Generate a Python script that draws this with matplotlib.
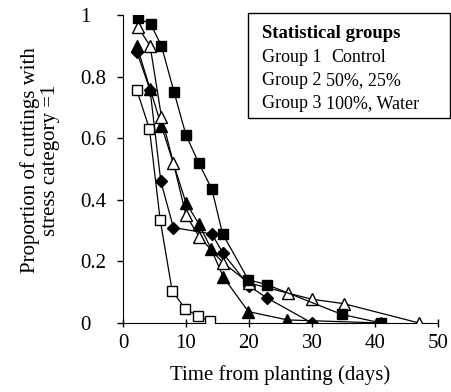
import numpy as np
import matplotlib.pyplot as plt

plt.rcParams['font.family'] = ['Liberation Serif', 'DejaVu Serif']

# filled squares
sq_x = [2.4, 4.4, 6.1, 8.1, 10.0, 12.0, 14.1, 15.8, 19.9, 22.8, 34.7, 41.0]
sq_y = [0.99, 0.97, 0.90, 0.75, 0.61, 0.52, 0.435, 0.29, 0.14, 0.125, 0.028, 0.0]

# open triangles
otri_x = [2.4, 4.3, 6.1, 8.0, 10.0, 12.1, 15.9, 20.0, 26.2, 30.0, 35.0, 47.0]
otri_y = [0.96, 0.90, 0.67, 0.52, 0.35, 0.28, 0.195, 0.13, 0.097, 0.077, 0.063, 0.0]

# filled diamonds
dia_x = [2.2, 4.3, 6.0, 8.0, 14.1, 15.9, 20.0, 22.8, 30.0]
dia_y = [0.88, 0.756, 0.46, 0.31, 0.289, 0.226, 0.12, 0.082, 0.0]

# filled triangles
ftri_x = [2.2, 4.3, 6.1, 10.0, 12.1, 14.0, 15.9, 19.9, 26.1, 41.0]
ftri_y = [0.90, 0.76, 0.64, 0.39, 0.32, 0.24, 0.15, 0.037, 0.01, 0.0]

# open squares
osq_x = [2.2, 4.2, 5.9, 7.8, 9.9, 11.9, 13.8]
osq_y = [0.756, 0.63, 0.335, 0.105, 0.045, 0.023, 0.005]

legend_title = "Statistical groups"
legend_groups = ["Group 1", "Group 2", "Group 3"]
legend_treat = ["Control", "50%, 25%", "100%, Water"]
treat_x = [331, 326, 326]

W, H = 452, 392
fig = plt.figure(figsize=(W / 100, H / 100), dpi=100)
ax = fig.add_axes([123 / W, 1 - 323 / H, (438 - 123) / W, (323 - 15) / H])

lw = 0.9
ms = 7.5
ax.plot(osq_x, osq_y, '-', color='black', lw=lw, marker='s', ms=ms,
        mfc='white', mec='black', mew=1, zorder=3)
ax.plot(ftri_x, ftri_y, '-', color='black', lw=lw, marker='^', ms=ms + 1,
        mfc='black', mec='black', zorder=3)
ax.plot(dia_x, dia_y, '-', color='black', lw=lw, marker='D', ms=ms - 1,
        mfc='black', mec='black', zorder=3)
ax.plot(otri_x, otri_y, '-', color='black', lw=lw, marker='^', ms=ms + 1,
        mfc='white', mec='black', mew=1, zorder=4)
ax.plot(sq_x, sq_y, '-', color='black', lw=lw, marker='s', ms=ms,
        mfc='black', mec='black', zorder=5)

ax.set_xlim(0, 50)
ax.set_ylim(0, 1)
ax.set_xticks([0, 10, 20, 30, 40, 50])
ax.set_yticks([0, 0.2, 0.4, 0.6, 0.8, 1])
ax.set_yticklabels(['0', '0.2', '0.4', '0.6', '0.8', '1'])
ax.spines['top'].set_visible(False)
ax.spines['right'].set_visible(False)
ax.tick_params(axis='x', direction='inout', length=6, width=1, labelsize=15, pad=5)
ax.tick_params(axis='y', direction='out', length=4, width=1, labelsize=15, pad=27)
for lab in ax.get_yticklabels():
    lab.set_horizontalalignment('left')

fig.text(280 / W, 1 - 375 / H, "Time from planting (days)", fontsize=15,
         ha='center', va='center')
fig.text(40 / W, 1 - 160 / H, "Proportion of cuttings with\nstress category =1",
         fontsize=15, rotation=90, ha='center', va='center',
         multialignment='center', linespacing=1.05)

# text box with statistical groups
box = plt.Rectangle((248 / W, 1 - 118 / H), (450 - 248) / W, (118 - 13) / H,
                    transform=fig.transFigure, fill=False, edgecolor='black', lw=1)
fig.add_artist(box)
fig.text(262 / W, 1 - 33 / H, legend_title, fontsize=13.5, fontweight='bold', va='center')
for i, (g, t) in enumerate(zip(legend_groups, legend_treat)):
    yy = 1 - (57 + i * 23.5) / H
    fig.text(262 / W, yy, g, fontsize=13, va='center')
    fig.text(treat_x[i] / W, yy, t, fontsize=13, va='center')

fig.savefig("out.png", dpi=100)
